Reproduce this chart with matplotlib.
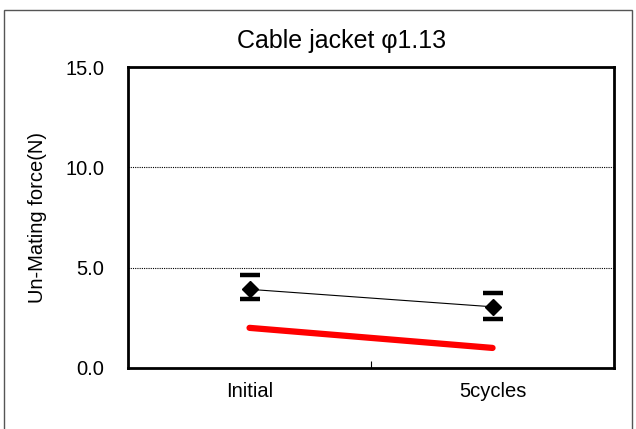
import matplotlib.pyplot as plt
from matplotlib.patches import Rectangle

plt.rcParams['font.family'] = ['Liberation Sans', 'DejaVu Sans']

categories = ['Initial', '5cycles']
mean_force = [3.92, 3.05]
err_upper = [4.65, 3.74]
err_lower = [3.44, 2.44]
spec_limit = [2.0, 1.0]
y_ticks = [0.0, 5.0, 10.0, 15.0]

fig = plt.figure(figsize=(6.36, 4.29), dpi=100)
ax = fig.add_axes([0.2013, 0.1422, 0.7642, 0.7016])

x = list(range(len(categories)))
yerr = [[m - lo for m, lo in zip(mean_force, err_lower)],
        [hi - m for m, hi in zip(mean_force, err_upper)]]

for yv in [5.0, 10.0]:
    ax.axhline(yv, color='black', lw=0.8, ls=(0, (1, 1)), zorder=1)

ax.plot(x, spec_limit, color='#ff0000', lw=4.5, solid_capstyle='round', zorder=2)
ax.errorbar(x, mean_force, yerr=yerr, fmt='none', ecolor='black', elinewidth=0,
            capsize=7, capthick=3.2, zorder=3)
ax.plot(x, mean_force, color='black', lw=0.8, marker='D', markersize=8, zorder=4)

ax.set_xlim(-0.5, 1.5)
ax.set_ylim(0, 15)
ax.set_yticks(y_ticks)
ax.set_yticklabels(['%.1f' % v for v in y_ticks])
ax.tick_params(axis='y', length=0, pad=17, labelsize=14.5)
ax.set_xticks([0.5])
ax.set_xticklabels([''])
ax.set_xticks(x, minor=True)
ax.set_xticklabels(categories, minor=True)
ax.tick_params(axis='x', which='major', direction='in', length=5, width=0.8)
ax.tick_params(axis='x', which='minor', length=0, pad=10, labelsize=14.5)
for s in ax.spines.values():
    s.set_linewidth(2)

ax.set_ylabel('Un-Mating force(N)', fontsize=14.5, labelpad=13)
ax.set_title('Cable jacket φ1.13', fontsize=18, pad=14, x=0.44)

fig.patches.append(Rectangle((4 / 636, -0.05), 628 / 636, 1 - 10 / 429 + 0.05,
                             transform=fig.transFigure, fill=False,
                             edgecolor='#555555', lw=1))

fig.savefig('out.png', dpi=100)
